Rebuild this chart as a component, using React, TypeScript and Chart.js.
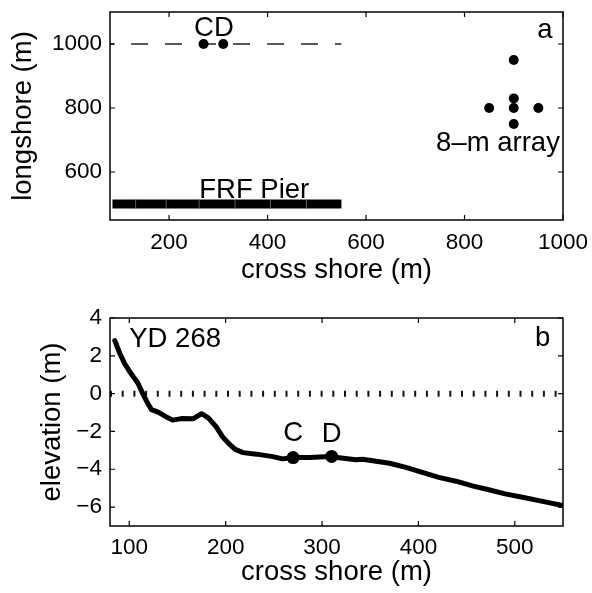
import React, { useEffect, useRef } from 'react';
import { Chart, registerables } from 'chart.js';

Chart.register(...registerables);

const FONT = '"Liberation Sans", Arial, Helvetica, sans-serif';

// ---- Panel a: plan view of the instrument layout ----
const cdX = [270, 310];
const cdY = [1000, 1000];
const arrayX = [900, 900, 900, 850, 950, 900];
const arrayY = [950, 830, 800, 800, 800, 750];
const transectX = [80, 550];
const transectY = 1000;
const pierX = [85, 132, 194, 261, 334, 406, 479, 550];
const pierY = 500;
const xTicksA = [200, 400, 600, 800, 1000];
const yTicksA = [600, 800, 1000];
const labelsA = [
  { text: 'CD', x: 291, y: 1024, align: 'center' },
  { text: 'a', x: 963, y: 1020, align: 'center' },
  { text: '8\u2013m array', x: 868, y: 667, align: 'center' },
  { text: 'FRF Pier', x: 373, y: 519, align: 'center' },
];

// ---- Panel b: cross-shore depth profile ----
const profileX = [
  85, 90, 95, 102, 109, 114, 119, 123, 130, 138, 145, 154, 166, 175, 182, 190,
  197, 204, 210, 218, 232, 249, 259, 270, 287, 308, 322, 335, 342, 370, 387,
  404, 421, 439, 456, 473, 490, 508, 525, 550,
];
const profileY = [
  2.8, 2.15, 1.6, 1.05, 0.55, 0, -0.5, -0.85, -0.98, -1.22, -1.4, -1.32, -1.33,
  -1.06, -1.28, -1.75, -2.3, -2.68, -2.95, -3.12, -3.2, -3.33, -3.45, -3.38,
  -3.38, -3.32, -3.42, -3.5, -3.47, -3.68, -3.9, -4.17, -4.43, -4.63, -4.88,
  -5.08, -5.3, -5.48, -5.66, -5.92,
];
const sensorX = [270, 310];
const sensorY = [-3.38, -3.32];
const meanWaterX = [80, 550];
const meanWaterY = 0;
const xTicksB = [100, 200, 300, 400, 500];
const yTicksB = [-6, -4, -2, 0, 2, 4];
const labelsB = [
  { text: 'YD 268', x: 100, y: 2.48, align: 'left' },
  { text: 'b', x: 529, y: 2.5, align: 'center' },
  { text: 'C', x: 270, y: -2.5, align: 'center' },
  { text: 'D', x: 310, y: -2.55, align: 'center' },
];

const minus = (v: number | string) => String(v).replace('-', '\u2212');

// Box frame with inward tick marks on all four sides, plus text labels.
const framePlugin = {
  id: 'frameAndLabels',
  afterDatasetsDraw(chart: any, _args: any, opts: any) {
    const { ctx, chartArea, scales } = chart;
    const { left, right, top, bottom } = chartArea;
    ctx.save();
    ctx.strokeStyle = '#000';
    ctx.lineWidth = 1.2;
    ctx.beginPath();
    const tl = 5;
    for (const t of scales.x.ticks) {
      const p = scales.x.getPixelForValue(t.value);
      ctx.moveTo(p, bottom);
      ctx.lineTo(p, bottom - tl);
      ctx.moveTo(p, top);
      ctx.lineTo(p, top + tl);
    }
    for (const t of scales.y.ticks) {
      const p = scales.y.getPixelForValue(t.value);
      ctx.moveTo(left, p);
      ctx.lineTo(left + tl, p);
      ctx.moveTo(right, p);
      ctx.lineTo(right - tl, p);
    }
    ctx.stroke();
    ctx.lineWidth = 1.5;
    ctx.strokeRect(left, top, right - left, bottom - top);

    ctx.fillStyle = '#000';
    ctx.font = `27.5px ${FONT}`;
    ctx.textBaseline = 'alphabetic';
    for (const l of opts.labels || []) {
      ctx.textAlign = l.align;
      ctx.fillText(l.text, scales.x.getPixelForValue(l.x), scales.y.getPixelForValue(l.y));
    }
    ctx.restore();
  },
};

function axis(
  min: number,
  max: number,
  ticks: number[],
  title: string,
  horizontal: boolean,
  fitSize: number,
  titlePad: number,
  tickPad: number
) {
  return {
    type: 'linear',
    min,
    max,
    afterBuildTicks: (s: any) => {
      s.ticks = ticks.map((value) => ({ value }));
    },
    afterFit: (s: any) => {
      if (horizontal) {
        s.height = fitSize;
        s.paddingLeft = 0;
        s.paddingRight = 0;
      } else {
        s.width = fitSize;
        s.paddingTop = 0;
        s.paddingBottom = 0;
      }
    },
    grid: { display: false, drawTicks: false },
    border: { display: false },
    ticks: {
      font: { family: FONT, size: 22.5 },
      color: '#000',
      padding: tickPad,
      maxRotation: 0,
      autoSkip: false,
      callback: (v: number) => minus(v),
    },
    title: {
      display: true,
      text: title,
      color: '#000',
      font: { family: FONT, size: 27.5 },
      padding: horizontal ? { top: 0, bottom: titlePad } : { top: titlePad, bottom: 0 },
    },
  };
}

const pts = (xs: number[], ys: number[] | number) =>
  xs.map((x, i) => ({ x, y: Array.isArray(ys) ? ys[i] : ys }));

const commonPlugins = (labels: any[]) => ({
  legend: { display: false },
  tooltip: { enabled: false },
  frameAndLabels: { labels },
});

function buildPlanView(canvas: HTMLCanvasElement) {
  return new Chart(canvas, {
    type: 'scatter',
    data: {
      datasets: [
        {
          data: pts(cdX, cdY),
          pointRadius: 5,
          pointBorderWidth: 0,
          pointBackgroundColor: '#000',
          order: 0,
        },
        {
          data: pts(arrayX, arrayY),
          pointRadius: 5,
          pointBorderWidth: 0,
          pointBackgroundColor: '#000',
          order: 0,
        },
        {
          // seams between pier sections
          data: pts(pierX.slice(1, -1), pierY),
          pointStyle: 'line',
          rotation: 90,
          pointRadius: 4.5,
          pointBorderWidth: 1,
          pointBorderColor: '#5a5a5a',
          order: 1,
        },
        {
          type: 'line',
          data: pts(pierX, pierY),
          showLine: true,
          borderColor: '#000',
          borderWidth: 9,
          borderCapStyle: 'butt',
          pointRadius: 0,
          order: 2,
        },
        {
          type: 'line',
          data: pts(transectX, transectY),
          showLine: true,
          borderColor: '#000',
          borderWidth: 1.3,
          borderDash: [17, 17],
          borderDashOffset: 13,
          pointRadius: 0,
          order: 3,
        },
      ],
    } as any,
    options: {
      responsive: false,
      animation: false,
      events: [],
      layout: { padding: { top: 12, right: 29, left: 0, bottom: 0 } },
      scales: {
        x: axis(80, 1000, xTicksA, 'cross shore (m)', true, 76, 9.5, 9),
        y: axis(450, 1100, yTicksA, 'longshore (m)', false, 110, 7, 8),
      } as any,
      plugins: commonPlugins(labelsA) as any,
    },
    plugins: [framePlugin],
  });
}

function buildProfile(canvas: HTMLCanvasElement) {
  return new Chart(canvas, {
    type: 'scatter',
    data: {
      datasets: [
        {
          data: pts(sensorX, sensorY),
          pointRadius: 6.5,
          pointBorderWidth: 0,
          pointBackgroundColor: '#000',
          order: 0,
        },
        {
          type: 'line',
          data: pts(profileX, profileY),
          showLine: true,
          borderColor: '#000',
          borderWidth: 5,
          borderJoinStyle: 'round',
          borderCapStyle: 'round',
          tension: 0,
          pointRadius: 0,
          order: 1,
        },
        {
          type: 'line',
          data: pts(meanWaterX, meanWaterY),
          showLine: true,
          borderColor: '#111',
          borderWidth: 6,
          borderDash: [2, 9.7],
          pointRadius: 0,
          order: 2,
        },
      ],
    } as any,
    options: {
      responsive: false,
      animation: false,
      events: [],
      layout: { padding: { top: 22, right: 29, left: 0, bottom: 0 } },
      scales: {
        x: axis(80, 550, xTicksB, 'cross shore (m)', true, 67, 4, 8.5),
        y: axis(-7, 4, yTicksB, 'elevation (m)', false, 110, 36, 8),
      } as any,
      plugins: commonPlugins(labelsB) as any,
    },
    plugins: [framePlugin],
  });
}

export default function App() {
  const topRef = useRef<HTMLCanvasElement>(null);
  const bottomRef = useRef<HTMLCanvasElement>(null);

  useEffect(() => {
    const a = buildPlanView(topRef.current!);
    const b = buildProfile(bottomRef.current!);
    return () => {
      a.destroy();
      b.destroy();
    };
  }, []);

  return (
    <div
      style={{
        position: 'fixed',
        left: 0,
        top: 0,
        width: 592,
        height: 593,
        background: '#fff',
      }}
    >
      <canvas
        ref={topRef}
        width={592}
        height={296}
        style={{ position: 'absolute', left: 0, top: 0, width: 592, height: 296 }}
      />
      <canvas
        ref={bottomRef}
        width={592}
        height={297}
        style={{ position: 'absolute', left: 0, top: 296, width: 592, height: 297 }}
      />
    </div>
  );
}
